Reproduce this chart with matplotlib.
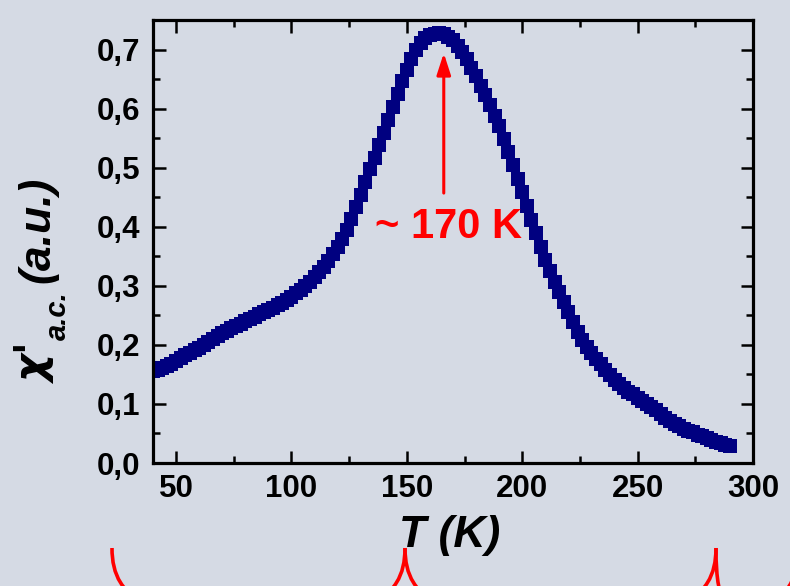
import matplotlib
matplotlib.use("Agg")
import matplotlib.pyplot as plt
from matplotlib.ticker import MultipleLocator, FuncFormatter
from matplotlib.path import Path
from matplotlib.patches import PathPatch

# AC susceptibility versus temperature
temperature = list(range(40, 291, 2))  # K
chi_ac = [
    0.155, 0.158, 0.161, 0.165, 0.168, 0.172, 0.177, 0.182, 0.186, 0.191,
    0.195, 0.200, 0.205, 0.210, 0.215, 0.220, 0.224, 0.228, 0.232, 0.236,
    0.240, 0.244, 0.248, 0.252, 0.255, 0.259, 0.263, 0.267, 0.271, 0.276,
    0.281, 0.287, 0.293, 0.300, 0.307, 0.315, 0.323, 0.332, 0.342, 0.353,
    0.365, 0.379, 0.395, 0.413, 0.433, 0.454, 0.476, 0.497, 0.517, 0.538,
    0.559, 0.581, 0.603, 0.625, 0.646, 0.666, 0.684, 0.699, 0.711, 0.719,
    0.725, 0.727, 0.728, 0.726, 0.721, 0.716, 0.706, 0.696, 0.684, 0.669,
    0.655, 0.639, 0.623, 0.606, 0.588, 0.570, 0.548, 0.526, 0.504, 0.481,
    0.458, 0.435, 0.412, 0.389, 0.366, 0.343, 0.325, 0.307, 0.289, 0.272,
    0.255, 0.238, 0.221, 0.208, 0.197, 0.186, 0.176, 0.167, 0.157, 0.149,
    0.141, 0.134, 0.127, 0.121, 0.116, 0.110, 0.105, 0.100, 0.094, 0.089,
    0.083, 0.077, 0.071, 0.066, 0.062, 0.058, 0.055, 0.052, 0.048, 0.045,
    0.042, 0.039, 0.036, 0.034, 0.031, 0.029,
]

# peak annotation
peak_T = 166
arrow_tail = 0.457
arrow_head = 0.694
peak_label = "~ 170 K"

x_label = "T (K)"
y_symbol = "χ'"
y_subscript = "a.c."
y_units = "(a.u.)"

BG = "#d5dae4"
NAVY = "#000080"
RED = "#ff0000"

plt.rcParams["font.family"] = ["Liberation Sans", "DejaVu Sans"]

W, H = 790, 586
fig = plt.figure(figsize=(W / 100, H / 100), dpi=100, facecolor=BG)
ax = fig.add_axes([153 / W, 1 - 463 / H, 600 / W, 443 / H], facecolor=BG)

ax.plot(temperature, chi_ac, linestyle="none", marker="s", markersize=10.5,
        color=NAVY, markeredgewidth=0)

ax.set_xlim(40, 300)
ax.set_ylim(0, 0.75)
ax.xaxis.set_major_locator(MultipleLocator(50))
ax.xaxis.set_minor_locator(MultipleLocator(25))
ax.yaxis.set_major_locator(MultipleLocator(0.1))
ax.yaxis.set_minor_locator(MultipleLocator(0.05))
ax.yaxis.set_major_formatter(FuncFormatter(lambda v, p: f"{v:.1f}".replace(".", ",")))

for s in ax.spines.values():
    s.set_linewidth(2.3)
ax.tick_params(which="both", direction="in", top=True, right=True, width=1.8)
ax.tick_params(which="major", length=9)
ax.tick_params(which="minor", length=5)
ax.tick_params(axis="x", which="major", pad=8, labelsize=22.5)
ax.tick_params(axis="y", which="major", pad=9, labelsize=22.5)
for lab in ax.get_xticklabels() + ax.get_yticklabels():
    lab.set_fontweight("bold")

ax.set_xlabel(x_label, fontsize=32, fontweight="bold", style="italic")
ax.xaxis.set_label_coords(0.495, -0.117)


# rotated y label built from pieces: symbol, subscript, units
def fig_xy(x, y):
    return x / W, 1 - y / H


label_kw = dict(rotation=90, rotation_mode="anchor", ha="left", va="baseline",
                fontweight="bold", style="italic", color="black")
fig.text(*fig_xy(47, 384), y_symbol, fontsize=31,
         family=["DejaVu Sans"], **label_kw)
fig.text(*fig_xy(66, 340), y_subscript, fontsize=21, **label_kw)
fig.text(*fig_xy(49, 283), y_units, fontsize=32, **label_kw)

ax.annotate("", xy=(peak_T, arrow_head), xytext=(peak_T, arrow_tail),
            arrowprops=dict(arrowstyle="-|>,head_length=1.3,head_width=0.42",
                            color=RED, lw=2.2, shrinkA=0, shrinkB=0))
ax.text(168, 0.40, peak_label, color=RED, fontsize=30, fontweight="bold",
        ha="center", va="center")


# red braces along the bottom edge
def to_fig(pts):
    return [fig_xy(x, y) for x, y in pts]


codes = [Path.MOVETO, Path.CURVE4, Path.CURVE4, Path.CURVE4]
arms = [
    [(112, 548), (112, 575), (122, 594), (150, 606)],
    [(405, 548), (405, 575), (395, 594), (367, 606)],
    [(405, 548), (405, 575), (415, 594), (443, 606)],
    [(716, 548), (716, 575), (706, 594), (678, 606)],
    [(716, 548), (716, 580), (719, 596), (728, 610)],
    [(798, 552), (798, 572), (792, 590), (770, 606)],
]
for arm in arms:
    fig.add_artist(PathPatch(Path(to_fig(arm), codes), transform=fig.transFigure,
                             fill=False, edgecolor=RED, linewidth=2.6,
                             capstyle="butt"))

fig.savefig("out.png", dpi=100, facecolor=BG)
